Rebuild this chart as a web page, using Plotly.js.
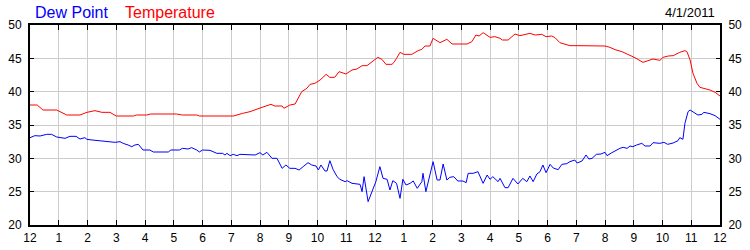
<!DOCTYPE html>
<html><head><meta charset="utf-8">
<script src="https://cdn.plot.ly/plotly-3.0.1.min.js"></script>
<style>html,body{margin:0;padding:0;background:#fff}#chart{width:750px;height:250px}</style>
</head><body><div id="chart"></div>
<script>
const tempHours = [0,0.25,0.45,0.93,1.28,1.74,1.98,2.26,2.5,2.78,3.0,3.6,3.7,4.06,4.2,5.1,5.3,5.8,5.9,7.07,7.4,7.65,8.07,8.24,8.38,8.52,8.77,8.83,9.04,9.22,9.45,9.63,9.74,9.91,10.09,10.3,10.43,10.6,10.75,10.99,11.2,11.37,11.55,11.72,11.83,12.1,12.24,12.38,12.59,12.66,12.75,12.87,13.0,13.28,13.5,13.63,13.74,13.91,14.02,14.26,14.5,14.68,15.2,15.37,15.51,15.62,15.76,16.0,16.17,16.35,16.43,16.63,16.87,17.04,17.39,17.57,17.8,17.95,18.15,18.26,18.43,18.6,18.78,19.06,20.0,20.17,20.35,20.59,20.8,21.04,21.32,21.46,21.67,21.91,22.02,22.2,22.37,22.6,22.78,22.85,22.96,23.06,23.2,23.3,23.48,23.65,23.83,24.0];
const tempValues = [38.0,38.0,37.25,37.25,36.5,36.5,36.9,37.15,36.9,36.9,36.35,36.35,36.5,36.5,36.65,36.65,36.5,36.5,36.35,36.35,36.75,37.0,37.65,37.85,38.1,37.85,37.85,37.5,38.0,38.15,40.0,40.5,41.1,41.25,41.75,42.6,42.15,42.15,43.0,42.65,43.25,43.4,43.9,43.9,44.25,45.15,44.85,44.1,44.1,44.4,45.0,45.9,45.6,45.6,46.15,46.35,46.85,46.85,48.0,47.35,47.85,47.15,47.15,47.5,48.5,48.35,48.85,48.15,48.25,48.0,47.75,47.75,48.65,48.4,48.75,48.5,48.6,48.25,48.35,48.1,47.35,47.1,46.9,46.9,46.85,46.65,46.3,46.0,45.6,45.1,44.4,44.6,44.9,44.7,45.15,45.35,45.4,45.9,46.15,46.0,44.75,42.75,41.25,40.65,40.5,40.25,39.9,39.35];
const dewHours = [0,0.17,0.35,0.58,0.75,0.93,1.22,1.39,1.6,1.74,1.91,1.98,2.16,2.43,2.72,2.96,3.13,3.24,3.41,3.54,3.65,3.77,3.93,4.17,4.29,4.81,4.9,5.2,5.3,5.5,5.62,5.8,5.89,6.0,6.26,6.5,6.7,6.78,6.85,6.96,7.07,7.2,7.3,7.65,7.83,8.0,8.1,8.24,8.42,8.59,8.77,8.9,9.04,9.22,9.36,9.5,9.67,9.8,9.95,10.03,10.12,10.26,10.33,10.43,10.54,10.68,10.78,10.96,11.03,11.2,11.37,11.48,11.55,11.62,11.76,11.9,12.03,12.17,12.28,12.42,12.52,12.62,12.75,12.87,12.97,13.08,13.22,13.33,13.47,13.63,13.67,13.77,13.91,14.02,14.16,14.26,14.37,14.5,14.6,14.74,14.88,15.06,15.17,15.24,15.41,15.58,15.76,15.9,16.0,16.1,16.28,16.35,16.52,16.63,16.8,16.97,17.14,17.28,17.39,17.5,17.63,17.74,17.84,17.95,18.09,18.2,18.37,18.5,18.67,18.78,18.95,19.03,19.2,19.34,19.44,19.55,19.7,19.86,20.0,20.07,20.24,20.35,20.52,20.63,20.77,20.87,20.97,21.1,21.28,21.39,21.57,21.67,21.91,22.05,22.18,22.37,22.54,22.6,22.71,22.78,22.89,22.96,23.06,23.23,23.37,23.44,23.65,23.83,24.0];
const dewValues = [33.1,33.4,33.35,33.6,33.6,33.2,33.0,33.3,33.3,32.9,33.1,32.85,32.75,32.65,32.5,32.4,32.5,32.25,32.0,31.75,32.0,32.1,31.25,31.25,30.95,30.95,31.25,31.25,31.5,31.4,31.6,31.25,30.95,31.25,31.2,30.75,30.75,30.5,30.75,30.4,30.6,30.4,30.6,30.6,30.5,30.85,30.5,30.9,30.0,30.0,28.5,29.0,28.5,28.5,28.25,28.75,29.35,29.0,28.85,28.25,29.0,28.1,28.1,29.65,28.35,27.25,26.85,26.5,26.65,26.25,26.1,26.1,25.0,27.25,23.5,25.0,26.5,28.75,27.0,26.85,25.25,26.65,26.25,24.0,26.85,26.0,26.25,26.6,25.5,26.5,27.75,25.0,27.5,29.5,26.75,26.75,29.15,26.75,27.15,27.25,26.6,26.6,26.35,27.75,27.75,28.0,26.25,27.5,26.85,27.25,26.5,27.0,25.6,25.6,27.0,26.15,27.0,26.5,27.35,26.5,27.65,28.0,29.0,27.85,29.1,28.55,28.3,29.1,29.2,29.5,29.75,29.3,29.6,30.5,29.9,30.0,30.6,30.65,30.9,30.4,30.85,31.15,31.5,31.65,31.5,31.85,31.75,32.0,32.25,31.85,31.85,32.35,32.25,32.4,32.1,32.3,32.65,33.1,32.85,35.25,37.0,37.25,37.0,36.5,36.6,36.9,36.7,36.4,35.85];
const hourTicks = [0,1,2,3,4,5,6,7,8,9,10,11,12,13,14,15,16,17,18,19,20,21,22,23,24];
const hourLabels = ["12","1","2","3","4","5","6","7","8","9","10","11","12","1","2","3","4","5","6","7","8","9","10","11","12"];
const yTicks = [20,25,30,35,40,45,50];
const seriesNames = ["Dew Point","Temperature"];
const dateLabel = "4/1/2011";

const font = {family:'"Liberation Sans", Arial, sans-serif', size:12, color:'#000'};
const traces = [
  {x:dewHours, y:dewValues, type:'scatter', mode:'lines', name:seriesNames[0], line:{color:'#0000ff', width:1}, xaxis:'x', yaxis:'y2'},
  {x:tempHours, y:tempValues, type:'scatter', mode:'lines', name:seriesNames[1], line:{color:'#ff0000', width:1}, xaxis:'x', yaxis:'y'}
];
const yax = {range:[20,50], tickvals:yTicks, showgrid:true, gridcolor:'#cccccc', gridwidth:1, zeroline:false,
  showline:true, linecolor:'#000', linewidth:2, ticks:'inside', ticklen:4, tickcolor:'#000', tickfont:font, ticklabelstandoff:4, fixedrange:true};
const layout = {
  width:750, height:250, margin:{l:30, r:30, t:25, b:25},
  paper_bgcolor:'#fff', plot_bgcolor:'#fff', showlegend:false, font:font,
  xaxis:{range:[0,24], tickvals:hourTicks, ticktext:hourLabels, showgrid:true, gridcolor:'#cccccc', gridwidth:1, zeroline:false,
    showline:true, mirror:'ticks', linecolor:'#000', linewidth:2, ticks:'inside', ticklen:5, tickcolor:'#000', tickfont:font, ticklabelstandoff:1},
  yaxis:Object.assign({}, yax, {side:'left'}),
  yaxis2:Object.assign({}, yax, {side:'right', overlaying:'y', showgrid:false}),
  annotations:[
    {xref:'paper', yref:'paper', x:3/690, y:1.065, xanchor:'left', yanchor:'middle', text:seriesNames[0], showarrow:false, font:{family:font.family, size:16, color:'#0000ff'}},
    {xref:'paper', yref:'paper', x:93/690, y:1.065, xanchor:'left', yanchor:'middle', text:seriesNames[1], showarrow:false, font:{family:font.family, size:16, color:'#ff0000'}},
    {xref:'paper', yref:'paper', x:687/690, y:1.06, xanchor:'right', yanchor:'middle', text:dateLabel, showarrow:false, font:{family:font.family, size:13, color:'#000'}}
  ]
};
Plotly.newPlot('chart', traces, layout, {staticPlot:true, displayModeBar:false});
</script></body></html>
